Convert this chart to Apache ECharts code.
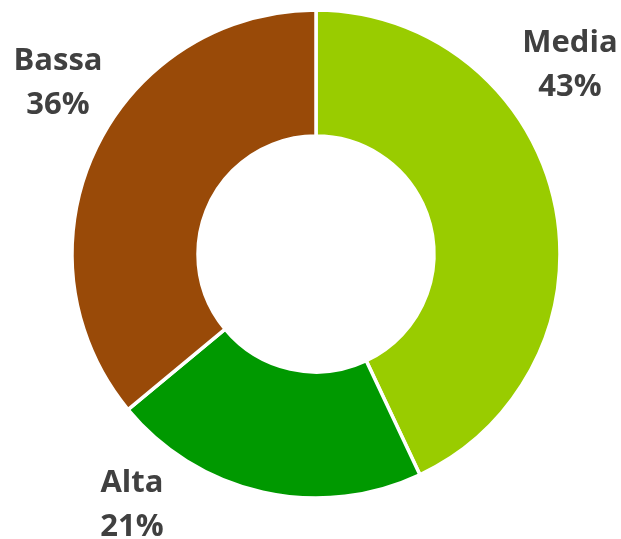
<!DOCTYPE html>
<html lang="it">
<head>
    <meta charset="UTF-8">
    <title>Distribuzione</title>
    <style>
        html, body { margin: 0; padding: 0; background: #fff; }
        #chart1 { width: 621px; height: 539px; }
    </style>
</head>
<body>
<div id="chart1"></div>

<script type="text/javascript" src="https://cdn.jsdelivr.net/npm/echarts@6/dist/echarts.min.js"></script>
<script type="text/javascript">
    var categories = ['Media', 'Alta', 'Bassa'];
    var values = [43, 21, 36];
    var colors = ['#99CC00', '#009900', '#994A08'];

    // label anchor points (block centres)
    var labelPos = [[570, 65], [132, 505], [58, 83]];

    var myChart1 = echarts.init(document.getElementById('chart1'));
    myChart1.setOption({
        animation: false,
        series: [
            {
                name: 'Distribuzione',
                type: 'pie',
                radius: [118, 244],
                center: [316, 254],
                startAngle: 90,
                clockwise: true,
                data: categories.map(function (c, i) {
                    return { name: c, value: values[i], itemStyle: { color: colors[i] } };
                }),
                itemStyle: {
                    borderColor: '#ffffff',
                    borderWidth: 3.5
                },
                label: {
                    show: true,
                    position: 'outside',
                    formatter: '{b}\n{d}%',
                    fontFamily: 'Open Sans',
                    fontWeight: 'bold',
                    fontSize: 31,
                    lineHeight: 44,
                    color: '#404040',
                    align: 'center',
                    width: 200,
                    overflow: 'none'
                },
                labelLine: { show: false },
                labelLayout: function (params) {
                    var p = labelPos[params.dataIndex];
                    return { x: p[0], y: p[1], align: 'center', verticalAlign: 'middle', hideOverlap: false };
                }
            }
        ]
    });
</script>
</body>
</html>
